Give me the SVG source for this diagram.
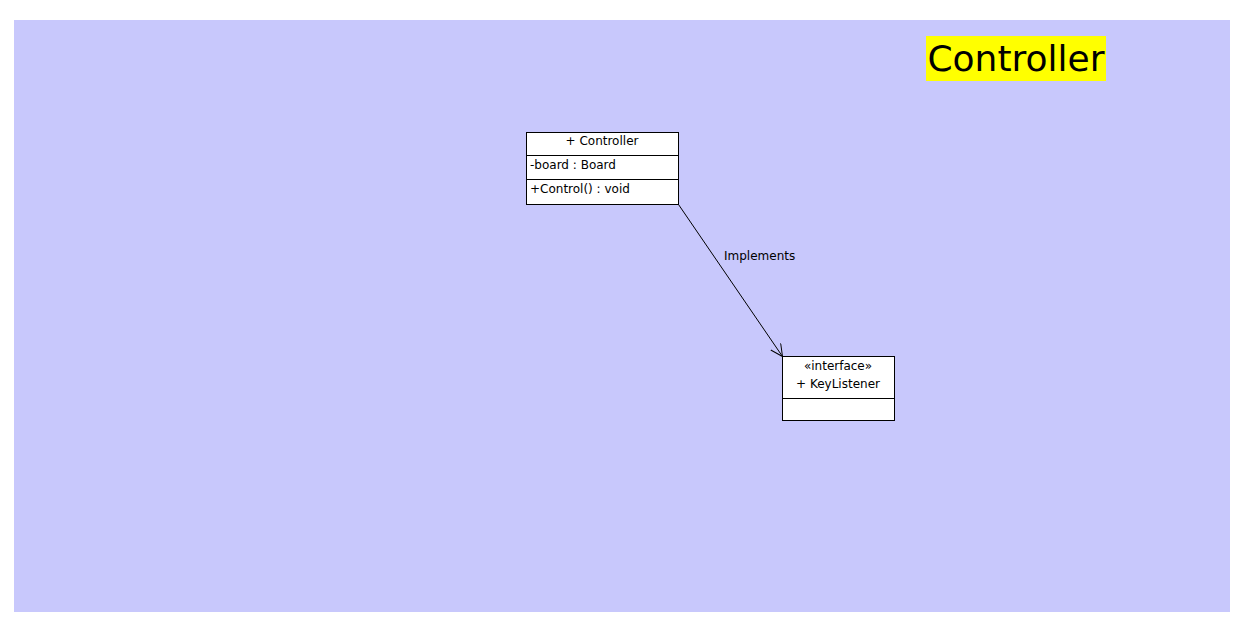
<svg xmlns="http://www.w3.org/2000/svg" width="1242" height="627" viewBox="0 0 1242 627">
<style>
.box{fill:#ffffff;stroke:#000000;stroke-width:1}
.t{font-family:"DejaVu Sans",sans-serif;font-size:12px;fill:#000000}
.ln{stroke:#000000;stroke-width:1;fill:none}
</style>
<defs>
<marker id="open" markerWidth="14" markerHeight="14" refX="12" refY="6" orient="auto" markerUnits="userSpaceOnUse">
<path d="M0,0 L12,6 L0,12" fill="none" stroke="#000000" stroke-width="1"/>
</marker>
</defs>
<rect width="1242" height="627" fill="#ffffff"/>
<rect x="14" y="20" width="1216" height="592" fill="#c8c8fc"/>
<g id="title">
<rect x="926" y="36" width="180" height="45" fill="#ffff00"/>
<text x="1016" y="71" text-anchor="middle" style="font-family:'DejaVu Sans',sans-serif;font-size:36px;fill:#000">Controller</text>
</g>
<g id="connectors">
<line class="ln" x1="678.5" y1="204.5" x2="782.5" y2="356.5" marker-end="url(#open)"/>
<text class="t" x="724" y="260">Implements</text>
</g>
<g id="controller">
<rect class="box" x="526.5" y="132.5" width="152" height="72"/>
<line class="ln" x1="526.5" y1="155.5" x2="678.5" y2="155.5"/>
<line class="ln" x1="526.5" y1="179.5" x2="678.5" y2="179.5"/>
<text class="t" x="602" y="145" text-anchor="middle">+ Controller</text>
<text class="t" x="530" y="169">-board : Board</text>
<text class="t" x="530" y="193">+Control() : void</text>
</g>
<g id="keylistener">
<rect class="box" x="782.5" y="356.5" width="112" height="64"/>
<line class="ln" x1="782.5" y1="398.5" x2="894.5" y2="398.5"/>
<text class="t" x="838" y="370" text-anchor="middle">«interface»</text>
<text class="t" x="838" y="388" text-anchor="middle">+ KeyListener</text>
</g>
</svg>
